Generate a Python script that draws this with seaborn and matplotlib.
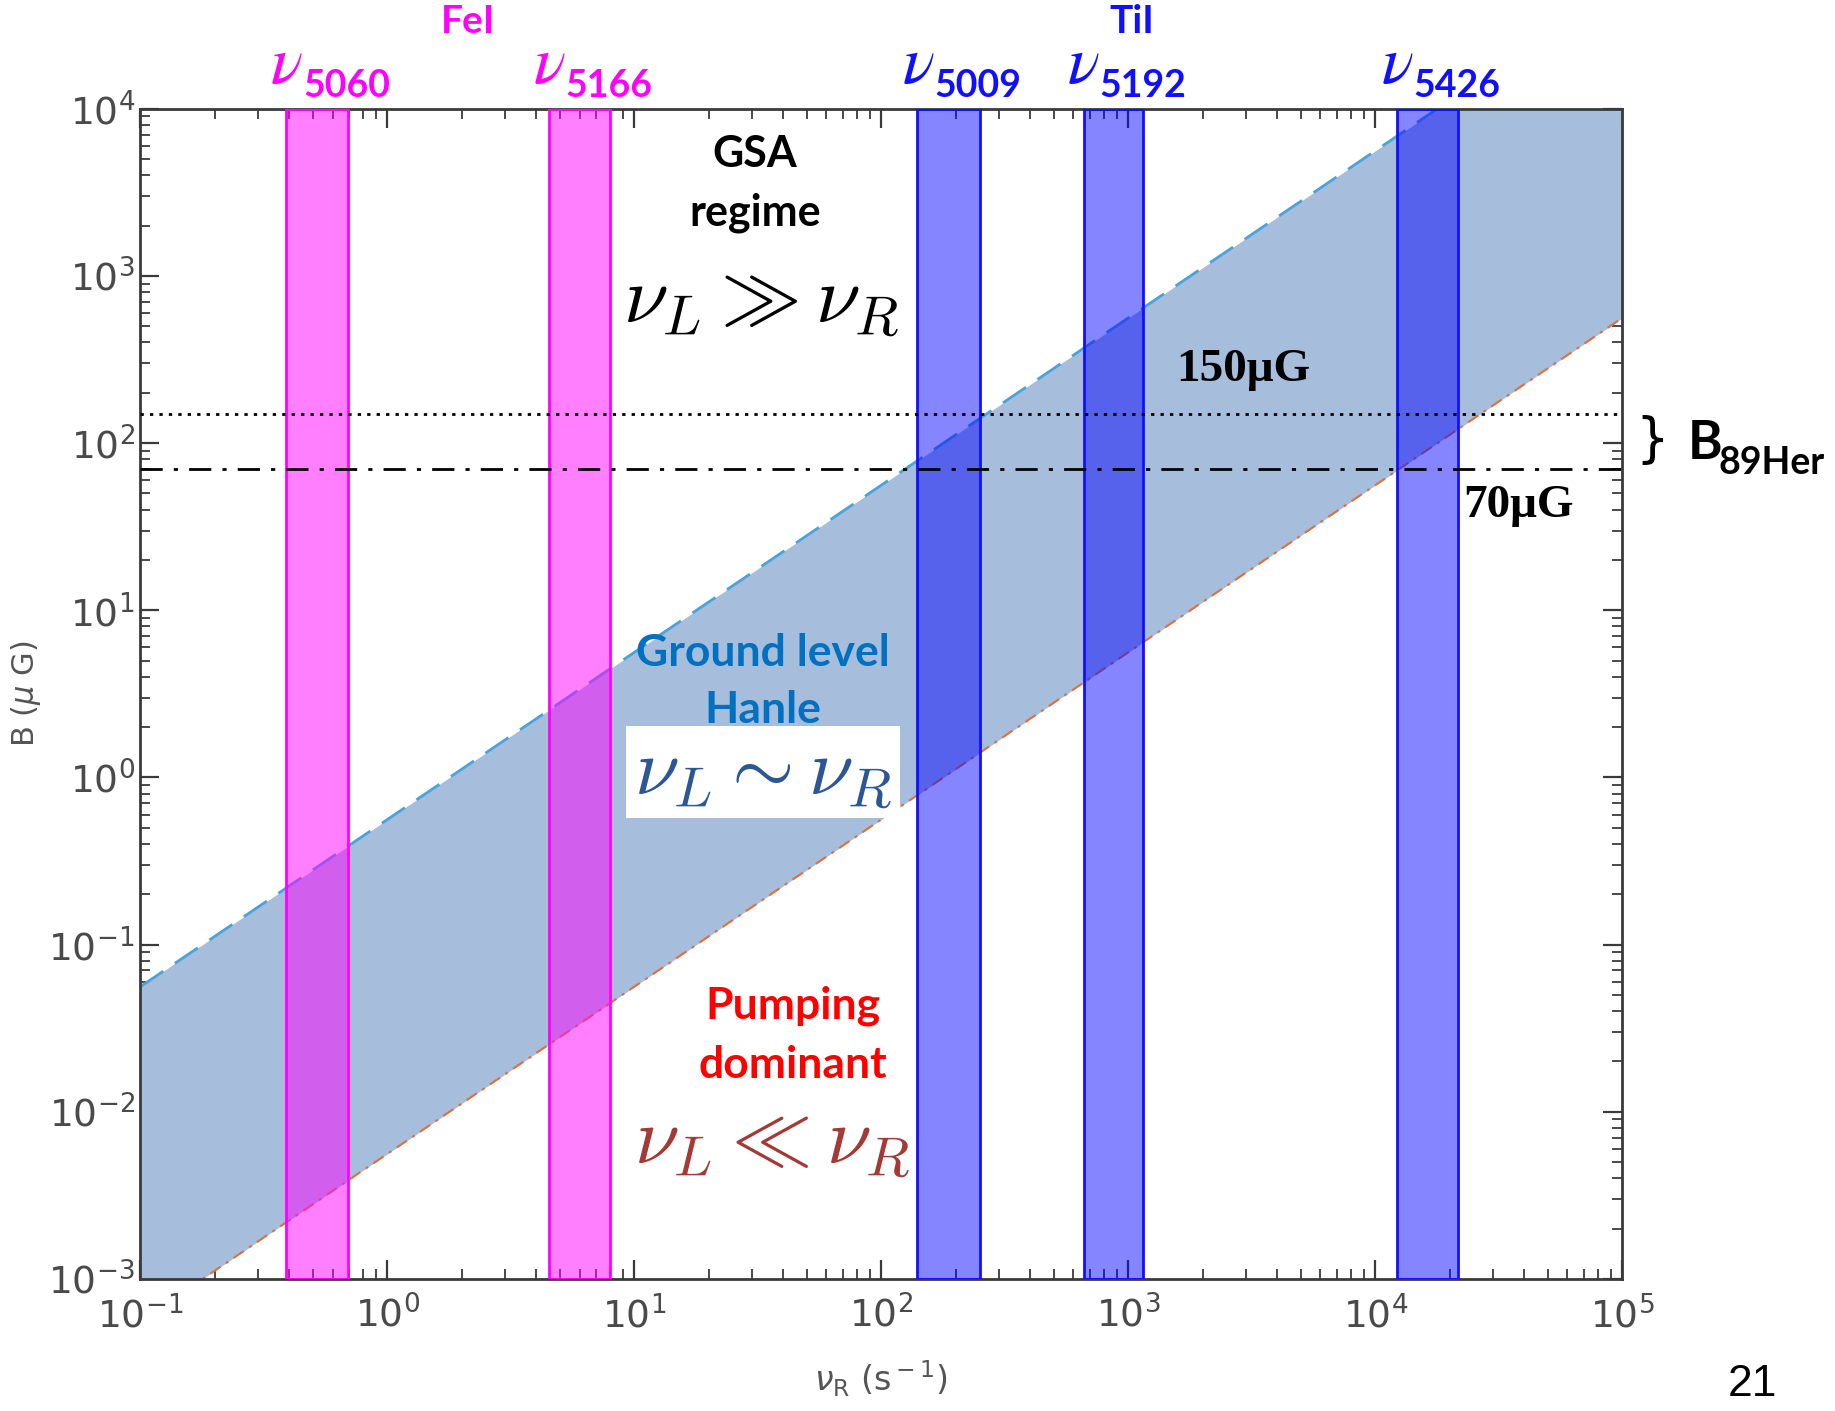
import matplotlib
matplotlib.use("Agg")
import matplotlib.pyplot as plt
import matplotlib.transforms as mtransforms
import pandas as pd
import seaborn as sns

# Radiative pumping rate range and Hanle-regime boundaries  B = k * nu_R
nu_R_edges = [0.1, 1e5]
B_hanle_upper = [0.056, 5.6e4]
B_hanle_lower = [5.6e-4, 560.0]

# Pumping-rate ranges of the observed lines (s^-1)
fe_lines = ["5060", "5166"]
fe_lo = [0.39, 4.5]
fe_hi = [0.69, 8.0]
ti_lines = ["5009", "5192", "5426"]
ti_lo = [140.0, 660.0, 12300.0]
ti_hi = [250.0, 1150.0, 21700.0]

# Field strength estimates for 89 Her (micro Gauss)
B_89Her = [150, 70]
B_89Her_labels = ["150\u03bcG", "70\u03bcG"]

W, H = 1835, 1411
sns.set_theme(style="ticks")
plt.rcParams["font.family"] = ["DejaVu Sans"]
plt.rcParams["mathtext.fontset"] = "dejavusans"
plt.rcParams["axes.unicode_minus"] = False

fig = plt.figure(figsize=(W / 100, H / 100), dpi=100)
ax = fig.add_axes([0.0765, 0.0936, 0.8075, 0.8293])
ax.set_xscale("log")
ax.set_yscale("log")

df_up = pd.DataFrame({"nu": nu_R_edges, "B": B_hanle_upper})
df_lo = pd.DataFrame({"nu": nu_R_edges, "B": B_hanle_lower})

# ground-level Hanle band
ax.fill_between(nu_R_edges, B_hanle_lower, B_hanle_upper,
                color="#a6bddc", linewidth=0, zorder=1)
sns.lineplot(data=df_up, x="nu", y="B", ax=ax, color="#4aa3dc",
             linewidth=2.0, zorder=2)
ax.lines[-1].set_dashes([10, 5])
sns.lineplot(data=df_lo, x="nu", y="B", ax=ax, color="#e0703a",
             linewidth=1.5, zorder=2)
ax.lines[-1].set_dashes([6, 3, 1.5, 3])

# line pumping-rate bands
for lo, hi in zip(fe_lo, fe_hi):
    ax.axvspan(lo, hi, facecolor=(1, 0, 1, 0.5), edgecolor="#ff00ff",
               linewidth=2, zorder=3)
for lo, hi in zip(ti_lo, ti_hi):
    ax.axvspan(lo, hi, facecolor=(0, 0, 1, 0.48), edgecolor="#1010ff",
               linewidth=2, zorder=3)

# 89 Her field levels
ax.axhline(B_89Her[0], color="black", linestyle=(0, (1.2, 2.2)),
           linewidth=2, zorder=4)
ax.axhline(B_89Her[1], color="black", linestyle=(0, (8, 4, 1.5, 4)),
           linewidth=2, zorder=4)

ax.set_xlim(0.1, 1e5)
ax.set_ylim(1e-3, 1e4)

for s in ax.spines.values():
    s.set_color("#3a3a3a")
    s.set_linewidth(2)
ax.tick_params(which="both", direction="in", top=True, right=True,
               color="#3a3a3a")
ax.tick_params(which="major", length=14, width=1.6, labelsize=27,
               labelcolor="#4a4a4a")
ax.tick_params(which="minor", length=7, width=1.3)
ax.tick_params(axis="x", which="major", pad=12)
ax.tick_params(axis="y", which="major", pad=4)

ax.set_xlabel(r"$\nu_{\rm R}$ (s$^{\rm -1}$)", fontsize=24, color="#555555")
ax.set_ylabel(r"B ($\mu$ G)", fontsize=22, color="#555555")
ax.xaxis.set_label_coords(0.5, -0.068)
ax.yaxis.set_label_coords(-0.066, 0.5)


def fx(x):
    return x / W


def fy(y):
    return 1 - y / H


bold = dict(family="Lato", fontweight="bold")

# species headers
fig.text(fx(468), fy(33), "FeI", color="#ff00ff", fontsize=28,
         ha="center", va="baseline", **bold)
fig.text(fx(1132), fy(33), "TiI", color="#1010ff", fontsize=28,
         ha="center", va="baseline", **bold)

# line labels above each band
blend = mtransforms.blended_transform_factory(ax.transData, fig.transFigure)
shift = mtransforms.ScaledTranslation(-14 / 100, 0, fig.dpi_scale_trans)
for names, los, his, col in [(fe_lines, fe_lo, fe_hi, "#ff00ff"),
                             (ti_lines, ti_lo, ti_hi, "#1010ff")]:
    for name, lo, hi in zip(names, los, his):
        xc = (lo * hi) ** 0.5
        ax.text(xc, fy(83), r"$\nu$", transform=blend + shift, color=col,
                fontsize=48, ha="right", va="baseline",
                math_fontfamily="stix", clip_on=False)
        ax.text(xc, fy(97), name, transform=blend + shift, color=col,
                fontsize=27, ha="left", va="baseline", clip_on=False, **bold)

# regime annotations
fig.text(fx(755), fy(154), "GSA", color="black", fontsize=31,
         ha="center", va="center", **bold)
fig.text(fx(755), fy(213), "regime", color="black", fontsize=31,
         ha="center", va="center", **bold)
fig.text(fx(761), fy(300), r"$\nu_L \gg \nu_R$", color="black",
         fontsize=58, ha="center", va="center", math_fontfamily="cm")

fig.text(fx(763), fy(653), "Ground level", color="#0070c0", fontsize=32,
         ha="center", va="center", **bold)
fig.text(fx(763), fy(710), "Hanle", color="#0070c0", fontsize=32,
         ha="center", va="center", **bold)
fig.text(fx(763), fy(772), r"$\nu_L \sim \nu_R$", color="#2b5797",
         fontsize=58, ha="center", va="center", math_fontfamily="cm",
         bbox=dict(facecolor="white", edgecolor="none", pad=5))

fig.text(fx(793), fy(1006), "Pumping", color="#ff0000", fontsize=32,
         ha="center", va="center", **bold)
fig.text(fx(793), fy(1065), "dominant", color="#ff0000", fontsize=32,
         ha="center", va="center", **bold)
fig.text(fx(772), fy(1141), r"$\nu_L \ll \nu_R$", color="#a33a35",
         fontsize=58, ha="center", va="center", math_fontfamily="cm")

# field level labels
fig.text(fx(1243), fy(370), B_89Her_labels[0], color="black", fontsize=34,
         ha="center", va="center", family="Liberation Serif",
         fontweight="bold")
fig.text(fx(1518), fy(506), B_89Her_labels[1], color="black", fontsize=34,
         ha="center", va="center", family="Liberation Serif",
         fontweight="bold")

fig.text(fx(1652), fy(441), "}", color="black", fontsize=38,
         ha="center", va="center", family="DejaVu Sans")
fig.text(fx(1688), fy(459), "B", color="black", fontsize=38,
         ha="left", va="baseline", **bold)
fig.text(fx(1718), fy(474), "89Her", color="black", fontsize=27,
         ha="left", va="baseline", **bold)

fig.text(fx(1752), fy(1384), "21", color="black", fontsize=32,
         ha="center", va="center", family="Liberation Sans")

fig.savefig("out.png", dpi=100)
